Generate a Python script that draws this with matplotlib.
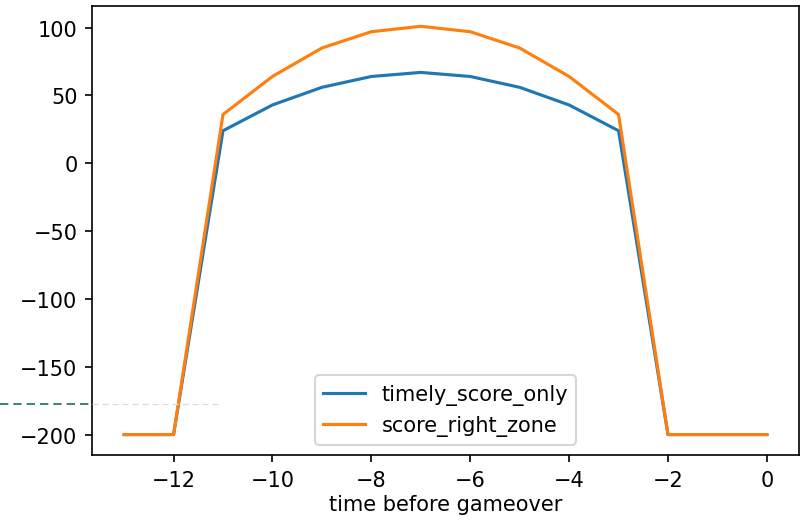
import numpy as np
import matplotlib.pyplot as plt
from matplotlib.lines import Line2D

# time steps before gameover
t = [-13, -12, -11, -10, -9, -8, -7, -6, -5, -4, -3, -2, -1, 0]

timely_score_only = [-200, -200, 24, 43, 56, 64, 67, 64, 56, 43, 24, -200, -200, -200]
score_right_zone = [-200, -200, 36, 64, 85, 97, 101, 97, 85, 64, 36, -200, -200, -200]

fig = plt.figure(figsize=(5.36, 3.4733), dpi=150)
ax = fig.add_axes([0.1144, 0.1248, 0.8794, 0.862])

ax.plot(t, timely_score_only, label="timely_score_only")
ax.plot(t, score_right_zone, label="score_right_zone")

ax.set_xlabel("time before gameover", labelpad=2)
ax.set_xticks([-12, -10, -8, -6, -4, -2, 0])
ax.set_yticks([100, 50, 0, -50, -100, -150, -200])
ax.legend(loc="lower center")

# stray dashed guide line visible in the screenshot
y_line = 1 - 405 / 521
fig.add_artist(Line2D([0, 0.1144], [y_line, y_line], transform=fig.transFigure,
                      color="#1f6f4f", lw=0.8, ls=(0, (5, 3))))
fig.add_artist(Line2D([0.1144, 0.271], [y_line, y_line], transform=fig.transFigure,
                      color="#d5dede", lw=0.6, ls=(0, (5, 3))))

fig.savefig("out.png", dpi=150)
